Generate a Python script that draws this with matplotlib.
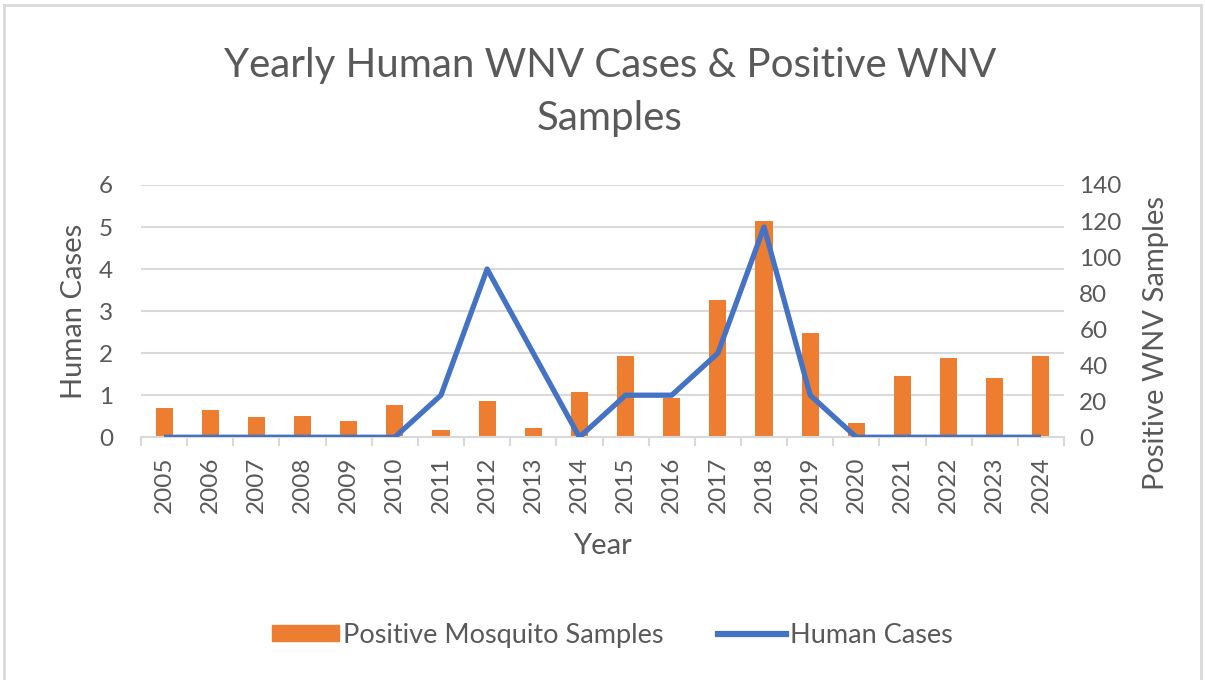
import matplotlib.pyplot as plt
from matplotlib.lines import Line2D
import numpy as np

# Data
years = ['2005', '2006', '2007', '2008', '2009', '2010', '2011', '2012', '2013', '2014',
         '2015', '2016', '2017', '2018', '2019', '2020', '2021', '2022', '2023', '2024']
mosquito_samples = [16, 15, 11, 12, 9, 18, 4, 20, 5, 25,
                    45, 22, 76, 120, 58, 8, 34, 44, 33, 45]
human_cases = [0, 0, 0, 0, 0, 0, 1, 4, 2, 0,
               1, 1, 2, 5, 1, 0, 0, 0, 0, 0]

orange = '#ED7D31'
blue = '#4472C4'
text_col = '#595959'
grid_col = '#D9D9D9'

plt.rcParams['font.family'] = ['Lato', 'DejaVu Sans']

fig = plt.figure(figsize=(12.05, 6.8), dpi=100)
ax = fig.add_axes([0.117, 0.357, 0.766, 0.371])
ax2 = ax.twinx()

x = np.arange(len(years))

# bars on the right axis, line on the left axis (line drawn on top)
ax2.bar(x, mosquito_samples, width=0.37, color=orange, zorder=2)
ax2.set_ylim(0, 140)
ax2.set_yticks(range(0, 141, 20))

ax.set_zorder(ax2.get_zorder() + 1)
ax.patch.set_visible(False)
ax.plot(x, human_cases, color=blue, linewidth=3.8, solid_capstyle='butt', zorder=3)
ax.set_ylim(0, 6)
ax.set_yticks(range(0, 7))
ax.set_xlim(-0.5, len(years) - 0.5)
ax.set_xticks(x)
ax.set_xticklabels(years, rotation=90)
ax.set_xticks(np.arange(-0.5, len(years)), minor=True)

# gridlines drawn on the bar axes so they sit behind everything
for v in range(1, 7):
    ax2.axhline(v * 140 / 6, color=grid_col, linewidth=1.5, zorder=0)

for a in (ax, ax2):
    for s in a.spines.values():
        s.set_visible(False)
ax.spines['bottom'].set_visible(True)
ax.spines['bottom'].set_color(grid_col)
ax.spines['bottom'].set_linewidth(1.5)

ax.tick_params(axis='x', which='major', length=0, pad=14, labelsize=17.5, labelcolor=text_col)
ax.tick_params(axis='x', which='minor', length=6.5, width=1.5, color=grid_col)
ax.tick_params(axis='y', length=0, pad=20, labelsize=17.5, labelcolor=text_col)
ax2.tick_params(axis='y', length=0, pad=11, labelsize=17.5, labelcolor=text_col)

ax.set_ylabel('Human Cases', fontsize=21, color=text_col, labelpad=9)
ax2.set_ylabel('Positive WNV Samples', fontsize=21, color=text_col)
ax2.yaxis.set_label_coords(1.0856, 0.373)  # sits a bit low in the original
ax.set_xlabel('Year', fontsize=21, color=text_col, labelpad=14)

# two-line title, lines placed separately
fig.text(0.506, 0.904, 'Yearly Human WNV Cases & Positive WNV', ha='center', va='center',
         fontsize=29, color=text_col)
fig.text(0.506, 0.826, 'Samples', ha='center', va='center', fontsize=29, color=text_col)

handles = [plt.Rectangle((0, 0), 1, 1, color=orange),
           Line2D([0], [0], color=blue, linewidth=4.5)]
fig.legend(handles, ['Positive Mosquito Samples', 'Human Cases'], loc='center',
           bbox_to_anchor=(0.508, 0.066), ncol=2, frameon=False, fontsize=19.5,
           labelcolor=text_col, handlelength=2.5, handleheight=0.5, handletextpad=0.15,
           columnspacing=2.0)

# light outer frame of the chart
fig.add_artist(Line2D([0.003, 0.997], [0.993, 0.993], transform=fig.transFigure, color='#D9D9D9', linewidth=2))
fig.add_artist(Line2D([0.003, 0.003], [0.0, 0.993], transform=fig.transFigure, color='#D9D9D9', linewidth=2))
fig.add_artist(Line2D([0.997, 0.997], [0.0, 0.993], transform=fig.transFigure, color='#D9D9D9', linewidth=2))

fig.savefig('out.png', dpi=100)
